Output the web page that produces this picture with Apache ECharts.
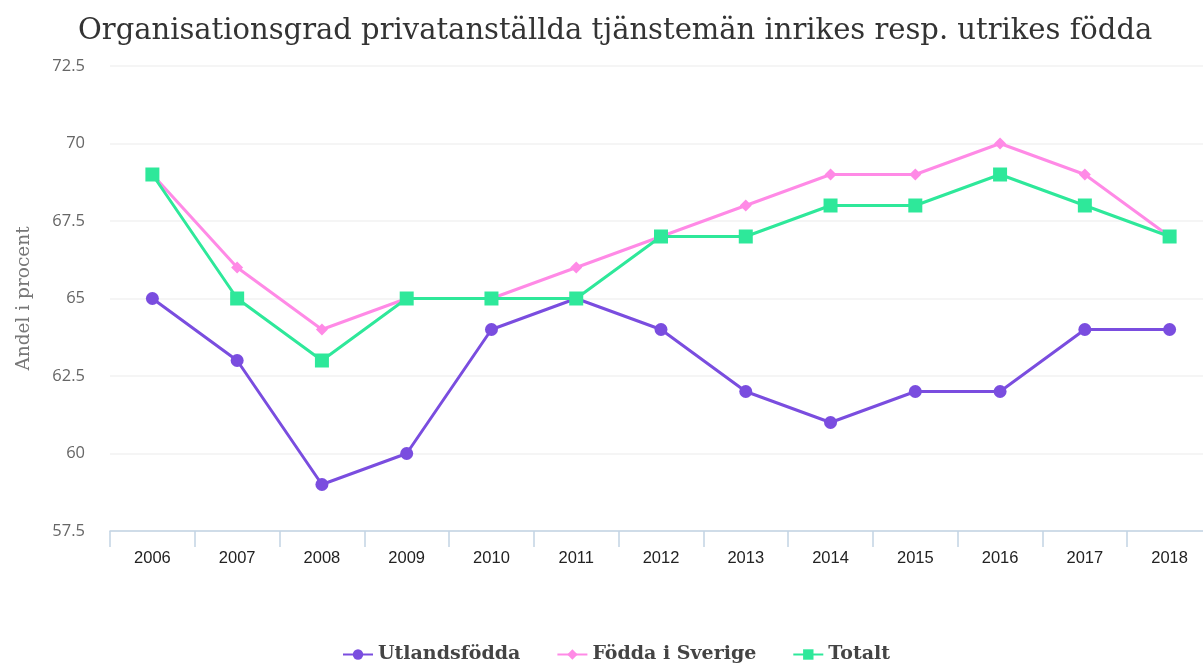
<!DOCTYPE html>
<html>
<head>
<meta charset="utf-8">
<style>
    html,body{margin:0;padding:0;background:#fff;}
    #chart{width:1203px;height:664px;}
</style>
</head>
<body>
<div id="chart"></div>
<script src="https://cdn.jsdelivr.net/npm/echarts@6/dist/echarts.min.js"></script>
<script>
    var years = ['2006','2007','2008','2009','2010','2011','2012','2013','2014','2015','2016','2017','2018'];
    var utlandsfodda = [65, 63, 59, 60, 64, 65, 64, 62, 61, 62, 62, 64, 64];
    var foddaSverige = [69, 66, 64, 65, 65, 66, 67, 68, 69, 69, 70, 69, 67];
    var totalt = [69, 65, 63, 65, 65, 65, 67, 67, 68, 68, 69, 68, 67];

    var myChart = echarts.init(document.getElementById('chart'));
    var option = {
        color: ['#7a4ddf', '#ff8ae6', '#2ee89a'],
        title: {
            text: 'Organisationsgrad privatanställda tjänstemän inrikes resp. utrikes födda',
            left: 73,
            top: 12,
            textStyle: {
                fontFamily: 'DejaVu Serif',
                fontWeight: 'normal',
                fontSize: 29,
                color: '#333'
            }
        },
        legend: {
            top: 640,
            left: 337,
            itemGap: 36,
            itemWidth: 30,
            itemHeight: 13,
            textStyle: {
                fontFamily: 'DejaVu Serif',
                fontWeight: 'bold',
                fontSize: 19,
                color: '#444'
            },
            data: ['Utlandsfödda', 'Födda i Sverige', 'Totalt']
        },
        grid: {
            left: 110,
            width: 1102,
            top: 66,
            bottom: 133,
            outerBoundsMode: 'none'
        },
        xAxis: {
            type: 'category',
            data: years,
            boundaryGap: true,
            axisLine: { lineStyle: { color: '#c2d3e3', width: 1.5 } },
            axisTick: { show: true, length: 16, lineStyle: { color: '#c2d3e3', width: 1.5 } },
            axisLabel: {
                margin: 19,
                fontFamily: 'Liberation Sans',
                fontSize: 16.5,
                color: '#222'
            }
        },
        yAxis: {
            type: 'value',
            min: 57.5,
            max: 72.5,
            interval: 2.5,
            name: 'Andel i procent',
            nameLocation: 'middle',
            nameGap: 76,
            nameTextStyle: {
                fontFamily: 'DejaVu Serif',
                fontSize: 18.5,
                color: '#777'
            },
            axisLine: { show: false },
            axisTick: { show: false },
            axisLabel: {
                margin: 25,
                fontFamily: 'Open Sans',
                fontSize: 16.5,
                color: '#666'
            },
            splitLine: { lineStyle: { color: '#f2f2f2', width: 1.5 } }
        },
        series: [
            {
                name: 'Utlandsfödda',
                type: 'line',
                data: utlandsfodda,
                symbol: 'circle',
                symbolSize: 13,
                lineStyle: { width: 3 }
            },
            {
                name: 'Födda i Sverige',
                type: 'line',
                data: foddaSverige,
                symbol: 'diamond',
                symbolSize: 12,
                lineStyle: { width: 3 }
            },
            {
                name: 'Totalt',
                type: 'line',
                data: totalt,
                symbol: 'rect',
                symbolSize: 14,
                lineStyle: { width: 3 }
            }
        ]
    };
    myChart.setOption(option);
</script>
</body>
</html>
